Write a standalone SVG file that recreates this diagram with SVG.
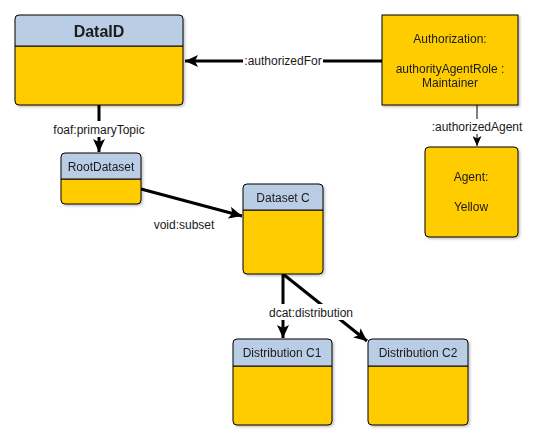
<svg xmlns="http://www.w3.org/2000/svg" width="540" height="445" viewBox="0 0 540 445">
<defs>
<style>
.hd{fill:#b9cde5;stroke:#000;stroke-width:1}
.bd{fill:#ffcc00;stroke:#000;stroke-width:1}
.t{font-family:"Liberation Sans",Arial,sans-serif;font-size:12px;fill:#1a1a1a;text-anchor:middle}
.tb{font-family:"Liberation Sans",Arial,sans-serif;font-size:16px;font-weight:bold;fill:#1a1a1a;text-anchor:middle}
.e{fill:none;stroke:#000;stroke-width:3}
.e1{fill:none;stroke:#000;stroke-width:1}
.lb{fill:#fff}
</style>
<marker id="a" markerUnits="userSpaceOnUse" markerWidth="14" markerHeight="12" viewBox="0 0 14 12" refX="13" refY="6" orient="auto"><path d="M0,0 L13,6 L0,12 L3,6 Z" fill="#000"/></marker>
<marker id="s" markerUnits="userSpaceOnUse" markerWidth="10" markerHeight="9" viewBox="0 0 10 9" refX="10" refY="4.5" orient="auto"><path d="M0,0 L10,4.5 L0,9 L2.5,4.5 Z" fill="#000"/></marker>
<filter id="sh" x="-10%" y="-10%" width="130%" height="130%"><feDropShadow dx="1.5" dy="1.5" stdDeviation="0.8" flood-color="#000" flood-opacity="0.25"/></filter>
</defs>
<g id="connectors">
<path class="e" d="M382,61 L185,61" marker-end="url(#a)"/>
<rect class="lb" x="243" y="53" width="80" height="16"/>
<text class="t" x="283" y="65">:authorizedFor</text>
<path class="e" d="M99,105 L99,152" marker-end="url(#a)"/>
<rect class="lb" x="52" y="121" width="95" height="16"/>
<text class="t" x="99" y="134">foaf:primaryTopic</text>
<path class="e" d="M141,189 L242,216" marker-end="url(#a)"/>
<text class="t" x="184" y="229">void:subset</text>
<path class="e1" d="M477,105 L477,146" marker-end="url(#s)"/>
<rect class="lb" x="430" y="119" width="93" height="15"/>
<text class="t" x="477" y="131">:authorizedAgent</text>
<path class="e" d="M283,274 L283,338" marker-end="url(#a)"/>
<path class="e" d="M283,274 L367,341" marker-end="url(#a)"/>
<rect class="lb" x="268" y="304" width="87" height="16"/>
<text class="t" x="311" y="317">dcat:distribution</text>
</g>
<g id="DataID" filter="url(#sh)">
<path class="bd" d="M15,46 L183,46 L183,101 Q183,105 179,105 L19,105 Q15,105 15,101 Z"/>
<path class="hd" d="M19,15 L179,15 Q183,15 183,19 L183,46 L15,46 L15,19 Q15,15 19,15 Z"/>
<text class="tb" x="99" y="37">DataID</text>
</g>
<g id="Authorization" filter="url(#sh)">
<rect class="bd" x="382" y="15" width="136" height="90"/>
<text class="t" x="450" y="43">Authorization:</text>
<text class="t" x="450" y="73">authorityAgentRole :</text>
<text class="t" x="450" y="87">Maintainer</text>
</g>
<g id="Agent" filter="url(#sh)">
<rect class="bd" x="425" y="147" width="93" height="90" rx="4"/>
<text class="t" x="471" y="181">Agent:</text>
<text class="t" x="471" y="211">Yellow</text>
</g>
<g id="RootDataset" filter="url(#sh)">
<path class="bd" d="M61,179 L141,179 L141,200 Q141,204 137,204 L65,204 Q61,204 61,200 Z"/>
<path class="hd" d="M65,153 L137,153 Q141,153 141,157 L141,179 L61,179 L61,157 Q61,153 65,153 Z"/>
<text class="t" x="101" y="171">RootDataset</text>
</g>
<g id="DatasetC" filter="url(#sh)">
<path class="bd" d="M243,210 L323,210 L323,270 Q323,274 319,274 L247,274 Q243,274 243,270 Z"/>
<path class="hd" d="M247,184 L319,184 Q323,184 323,188 L323,210 L243,210 L243,188 Q243,184 247,184 Z"/>
<text class="t" x="283" y="202">Dataset C</text>
</g>
<g id="DistributionC1" filter="url(#sh)">
<path class="bd" d="M233,366 L332,366 L332,421 Q332,425 328,425 L237,425 Q233,425 233,421 Z"/>
<path class="hd" d="M237,339 L328,339 Q332,339 332,343 L332,366 L233,366 L233,343 Q233,339 237,339 Z"/>
<text class="t" x="282" y="357">Distribution C1</text>
</g>
<g id="DistributionC2" filter="url(#sh)">
<path class="bd" d="M368,366 L468,366 L468,421 Q468,425 464,425 L372,425 Q368,425 368,421 Z"/>
<path class="hd" d="M372,339 L464,339 Q468,339 468,343 L468,366 L368,366 L368,343 Q368,339 372,339 Z"/>
<text class="t" x="418" y="357">Distribution C2</text>
</g>
</svg>
